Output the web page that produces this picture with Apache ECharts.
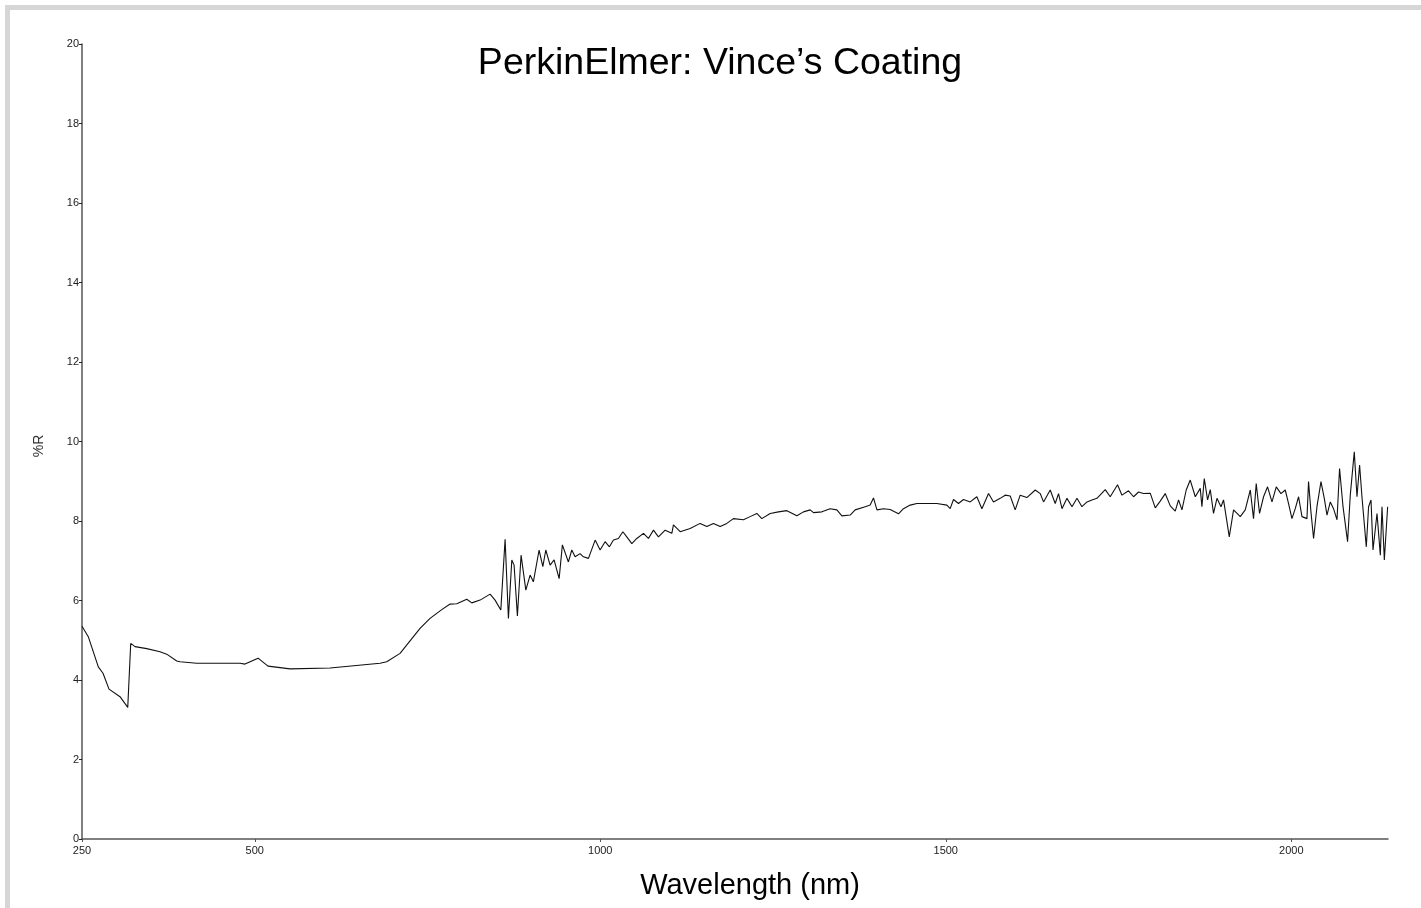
<!DOCTYPE html>
<html>
<head>
<meta charset="utf-8">
<script src="https://cdn.jsdelivr.net/npm/echarts@6/dist/echarts.min.js"></script>
<style>
html,body{margin:0;padding:0;background:#fff;}
#frame{position:absolute;left:5px;top:5px;width:1430px;height:920px;border-left:5px solid #d6d6d6;border-top:5px solid #d6d6d6;box-sizing:border-box;}
#chart{position:absolute;left:0;top:0;width:1421px;height:908px;}
</style>
</head>
<body>
<div id="frame"></div>
<div id="chart"></div>
<script>
const titleText = 'PerkinElmer: Vince\u2019s Coating';
const xName = 'Wavelength (nm)';
const yName = '%R';
const xTickLabels = [250, 500, 1000, 1500, 2000];
const yTicks = [0, 2, 4, 6, 8, 10, 12, 14, 16, 18, 20];

const wavelength = [
250,259.1,273.6,280.4,289.1,305.0,316.2,320.5,326.7,343.7,362.9,372.6,387.1,391.9,416.0,478.7,485.9,504.8,519.2,551.1,
609.0,681.3,691.0,710.3,739.2,753.7,770.6,782.7,792.4,806.8,814.1,826.1,840.6,847.8,856.1,862.3,867.1,872.0,875.3,880.1,
885.4,892.3,898.5,903.2,911.5,916.9,921.2,927.4,933.2,940.5,945.2,953.9,958.8,963.6,970.8,975.6,982.9,992.6,999.8,1007.0,
1013.3,1019.1,1026.3,1032.7,1038.4,1045.7,1052.9,1062.5,1069.7,1077.0,1084.2,1093.9,1103.6,1105.9,1115.6,1130.1,1144.5,1154.2,1163.8,1173.5,
1183.2,1192.7,1207.2,1216.9,1226.6,1233.8,1245.9,1257.9,1270.0,1284.5,1294.1,1303.8,1308.6,1320.7,1332.7,1342.4,1349.7,1361.7,1368.9,1383.4,
1390.6,1395.4,1400.4,1410.0,1419.6,1431.6,1438.8,1448.5,1458.2,1472.7,1487.1,1501.6,1506.4,1511.2,1518.4,1525.7,1535.4,1545.0,1552.3,1561.9,
1569.1,1578.8,1586.0,1593.3,1600.5,1607.7,1617.4,1629.5,1636.7,1641.5,1651.2,1658.4,1663.2,1668.2,1675.4,1682.7,1689.9,1697.1,1704.4,1711.6,
1718.8,1730.8,1738.0,1748.6,1755.0,1764.5,1771.8,1779.0,1786.2,1795.9,1803.2,1810.4,1817.6,1824.9,1832.1,1836.9,1841.8,1848.0,1853.8,1861.1,
1868.3,1870.7,1874.1,1878.9,1882.8,1887.5,1892.5,1898.3,1902.0,1910.3,1916.5,1926.2,1933.4,1940.7,1945.4,1949.3,1954.1,1959.9,1965.7,1972.1,
1978.3,1985.1,1991.3,1996.1,2001.0,2005.8,2010.6,2015.5,2022.7,2025.0,2028.5,2032.3,2037.2,2043.0,2047.8,2051.7,2056.5,2061.2,2066.2,2069.9,
2074.9,2081.5,2085.4,2091.2,2095.1,2098.9,2102.3,2108.6,2111.9,2115.4,2118.3,2124.1,2128.9,2131.3,2134.7,2139.5
];
const reflectance = [
5.35,5.09,4.33,4.17,3.77,3.58,3.31,4.92,4.84,4.79,4.71,4.65,4.48,4.46,4.42,4.42,4.40,4.55,4.35,4.28,
4.30,4.42,4.46,4.67,5.30,5.55,5.77,5.91,5.92,6.03,5.94,6.01,6.16,6.01,5.76,7.54,5.55,7.02,6.89,5.61,
7.14,6.26,6.64,6.47,7.27,6.85,7.27,6.89,7.02,6.55,7.40,6.97,7.27,7.10,7.18,7.10,7.06,7.52,7.27,7.48,
7.35,7.52,7.56,7.73,7.60,7.43,7.56,7.69,7.56,7.77,7.60,7.77,7.69,7.90,7.73,7.81,7.94,7.86,7.94,7.86,
7.94,8.06,8.03,8.11,8.19,8.06,8.19,8.23,8.26,8.13,8.23,8.28,8.21,8.23,8.31,8.28,8.13,8.15,8.28,8.36,
8.40,8.58,8.28,8.31,8.29,8.18,8.31,8.40,8.44,8.44,8.44,8.40,8.31,8.54,8.44,8.54,8.48,8.61,8.31,8.69,
8.48,8.57,8.65,8.63,8.28,8.65,8.59,8.78,8.69,8.48,8.78,8.44,8.69,8.31,8.57,8.36,8.57,8.36,8.48,8.53,
8.57,8.79,8.61,8.91,8.65,8.76,8.61,8.73,8.69,8.70,8.33,8.50,8.69,8.38,8.25,8.53,8.28,8.78,9.03,8.61,
8.82,8.36,9.07,8.53,8.79,8.19,8.57,8.36,8.53,7.60,8.28,8.11,8.28,8.78,8.06,8.94,8.19,8.61,8.86,8.48,
8.86,8.69,8.78,8.44,8.06,8.31,8.61,8.11,8.06,8.99,8.23,7.56,8.36,8.99,8.57,8.15,8.48,8.31,8.03,9.32,
8.36,7.48,8.65,9.74,8.61,9.41,8.61,7.35,8.36,8.53,7.27,8.19,7.14,8.36,7.02,8.36
];

const chart = echarts.init(document.getElementById('chart'), null, {renderer: 'canvas'});
const font = 'Arial, "Liberation Sans", sans-serif';
chart.setOption({
  backgroundColor: 'transparent',
  animation: false,
  grid: {left: 82, right: 33, top: 44, bottom: 69, containLabel: false},
  xAxis: {
    type: 'value', min: 250, max: 2140,
    axisLine: {show: true, lineStyle: {color: '#555', width: 1.5}},
    axisTick: {show: true, length: 3, customValues: xTickLabels, lineStyle: {color: '#555'}},
    axisLabel: {customValues: xTickLabels, fontSize: 11, color: '#222', fontFamily: font, margin: 6,
      formatter: function (v) { return String(v); }},
    splitLine: {show: false}
  },
  yAxis: {
    type: 'value', min: 0, max: 20, interval: 2,
    axisLine: {show: true, lineStyle: {color: '#555', width: 1.5}},
    axisTick: {show: true, length: 3, lineStyle: {color: '#222'}},
    axisLabel: {fontSize: 11, color: '#222', fontFamily: font, margin: 3,
      formatter: function (v) { return String(v); }},
    splitLine: {show: false}
  },
  graphic: [
    {type: 'text', x: 720, y: 64, style: {text: titleText, fontSize: 37.5, fontFamily: font, fill: '#000', align: 'center', verticalAlign: 'middle'}},
    {type: 'text', x: 750, y: 886, style: {text: xName, fontSize: 29, fontFamily: font, fill: '#000', align: 'center', verticalAlign: 'middle'}},
    {type: 'text', x: 39, y: 446, rotation: Math.PI / 2, style: {text: yName, fontSize: 14, fontFamily: font, fill: '#333', align: 'center', verticalAlign: 'middle'}}
  ],
  series: [{
    type: 'line',
    data: wavelength.map((w, i) => [w, reflectance[i]]),
    showSymbol: false,
    symbol: 'none',
    lineStyle: {color: '#111', width: 1.1},
    silent: true
  }]
});
</script>
</body>
</html>
